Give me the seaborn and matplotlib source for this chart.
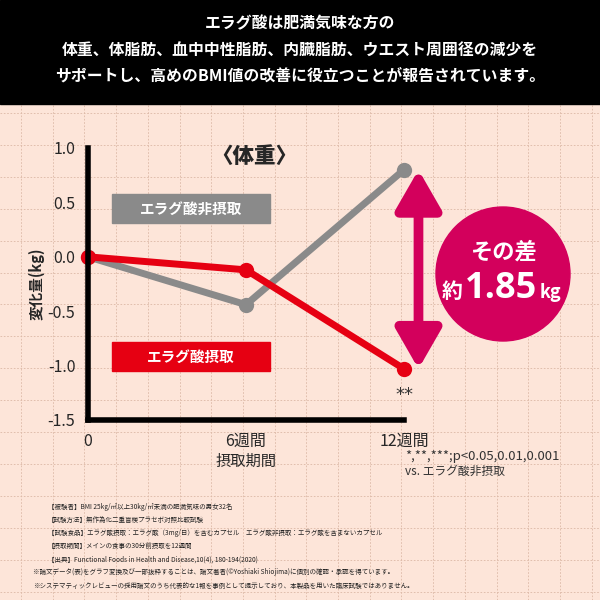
import numpy as np
import pandas as pd
import seaborn as sns
import matplotlib.pyplot as plt
from matplotlib.patches import Rectangle, Circle

# data
weeks = [0, 6, 12]
placebo_vals = [0.0, -0.44, 0.80]    # エラグ酸非摂取
ellagic_vals = [0.0, -0.12, -1.03]   # エラグ酸摂取
group_names = ["エラグ酸非摂取", "エラグ酸摂取"]
x_ticks = [0, 6, 12]
x_labels = ["0", "6週間", "12週間"]
y_ticks = [1.0, 0.5, 0.0, -0.5, -1.0, -1.5]

header = ["エラグ酸は肥満気味な方の",
          "体重、体脂肪、血中中性脂肪、内臓脂肪、ウエスト周囲径の減少を",
          "サポートし、高めのBMI値の改善に役立つことが報告されています。"]
notes = ["【被験者】BMI 25kg/㎡以上30kg/㎡未満の肥満気味の男女32名",
         "【試験方法】無作為化二重盲検プラセボ対照比較試験",
         "【試験食品】エラグ酸摂取：エラグ酸（3mg/日）を含むカプセル　エラグ酸非摂取：エラグ酸を含まないカプセル",
         "【摂取期間】メインの食事の30分前摂取を12週間",
         "【出典】Functional Foods in Health and Disease,10(4), 180-194(2020)",
         "※論文データ(表)をグラフ変換及び一部抜粋することは、論文著者(©Yoshiaki Shiojima)に個別の確認・承認を得ています。",
         "※システマティックレビューの採用論文のうち代表的な1報を事例として提示しており、本製品を用いた臨床試験ではありません。"]

df = pd.DataFrame({
    "week": weeks * 2,
    "value": placebo_vals + ellagic_vals,
    "group": [group_names[0]] * 3 + [group_names[1]] * 3,
})

GRAY = "#8a8a8a"
RED = "#e60012"
MAGENTA = "#d3005c"

sns.set_theme(style="white")
plt.rcParams['font.family'] = ['Noto Sans CJK JP', 'DejaVu Sans']

fig = plt.figure(figsize=(6, 6), dpi=100)
fig.patch.set_facecolor("#fde5d9")

# background layer: grid, banner, label boxes, notes (pixel coords)
bg = fig.add_axes([0, 0, 1, 1], zorder=0)
bg.set_xlim(0, 600)
bg.set_ylim(600, 0)
bg.axis("off")
bg.set_facecolor("none")
for gx in np.arange(21, 600, 31.7):
    bg.axvline(gx, color="#dcb8a6", lw=0.6, ls=(0, (2, 2)))
for gy in np.arange(113, 600, 31.9):
    bg.axhline(gy, color="#dcb8a6", lw=0.6, ls=(0, (2, 2)))
bg.add_patch(Rectangle((0, 0), 600, 104, color="black", zorder=3))
for i, line in enumerate(header):
    bg.text(300, 23 + i * 26.5, line, color="white", fontsize=11.4, fontweight="bold",
            ha="center", va="center", zorder=4)

bg.add_patch(Rectangle((112, 194), 158, 29, color=GRAY, zorder=2))
bg.text(191, 209, group_names[0], fontsize=10.5, fontweight="bold", color="white",
        ha="center", va="center", zorder=3)
bg.add_patch(Rectangle((112, 342), 158, 29, color=RED, zorder=2))
bg.text(191, 357, group_names[1], fontsize=10.5, fontweight="bold", color="white",
        ha="center", va="center", zorder=3)

for i, line in enumerate(notes):
    xx = 48 if line.startswith("【") else 33
    bg.text(xx, 507 + i * 13.1, line, fontsize=4.7, color="#222222", ha="left", va="center")

# main chart
ax = fig.add_axes([88 / 600, 0.30, 316 / 600, 272 / 600], zorder=2)
ax.set_facecolor("none")
sns.lineplot(data=df, x="week", y="value", hue="group", palette=[GRAY, RED],
             marker="o", markersize=11, markeredgewidth=0, linewidth=5,
             legend=False, ax=ax, clip_on=False)
ax.set_xlim(0, 12)
ax.set_ylim(-1.5, 1.0)
for s in ["top", "right"]:
    ax.spines[s].set_visible(False)
for s in ["left", "bottom"]:
    ax.spines[s].set_linewidth(4)
    ax.spines[s].set_color("black")
ax.set_yticks(y_ticks)
ax.set_yticklabels([f"{v:.1f}" for v in y_ticks], fontsize=11.5)
ax.set_xticks(x_ticks)
ax.set_xticklabels(x_labels, fontsize=11.5)
ax.tick_params(axis="both", length=5, width=4, color="black", direction="out", pad=4)
ax.set_xlabel("")
ax.set_ylabel("変化量(kg)", fontsize=10.5, fontweight="bold", labelpad=2)
ax.text(6, -1.88, "摂取期間", fontsize=11, ha="center", va="center", clip_on=False)

# title
ax.text(6.3, 0.92, "〈体重〉", fontsize=15.5, fontweight="heavy", ha="center", va="center")

# significance and p-value note
ax.text(12, -1.27, "**", fontsize=13, ha="center", va="center", color="#333333",
        family="DejaVu Sans", clip_on=False)
ax.text(12.05, -1.84, "*,**,***;p<0.05,0.01,0.001", fontsize=9.5, ha="left", va="center",
        color="#333333", clip_on=False)
ax.text(12.05, -1.97, "vs. エラグ酸非摂取", fontsize=8.5, ha="left", va="center",
        color="#333333", clip_on=False)

# difference arrow
ax.annotate("", xy=(12.55, placebo_vals[2]), xytext=(12.55, ellagic_vals[2]),
            arrowprops=dict(arrowstyle="<|-|>,head_length=2.0,head_width=1.15",
                            color=MAGENTA, lw=7, shrinkA=0, shrinkB=0),
            annotation_clip=False)

# difference badge
fig.patches.append(Circle((503 / 600, 1 - 274 / 600), 67 / 600, transform=fig.transFigure,
                          color=MAGENTA, zorder=5))
fig.text(503 / 600, 1 - 252 / 600, "その差", fontsize=16, fontweight="bold", color="white",
         ha="center", va="center", zorder=6)
fig.text(452 / 600, 1 - 292 / 600, "約", fontsize=15, fontweight="bold", color="white",
         ha="center", va="center", zorder=6)
fig.text(501 / 600, 1 - 289 / 600, "1.85", fontsize=26, fontweight="bold", color="white",
         ha="center", va="center", zorder=6, family="Open Sans")
fig.text(550 / 600, 1 - 293 / 600, "kg", fontsize=13, fontweight="bold", color="white",
         ha="center", va="center", zorder=6)

fig.savefig("out.png", dpi=100, facecolor=fig.get_facecolor())
